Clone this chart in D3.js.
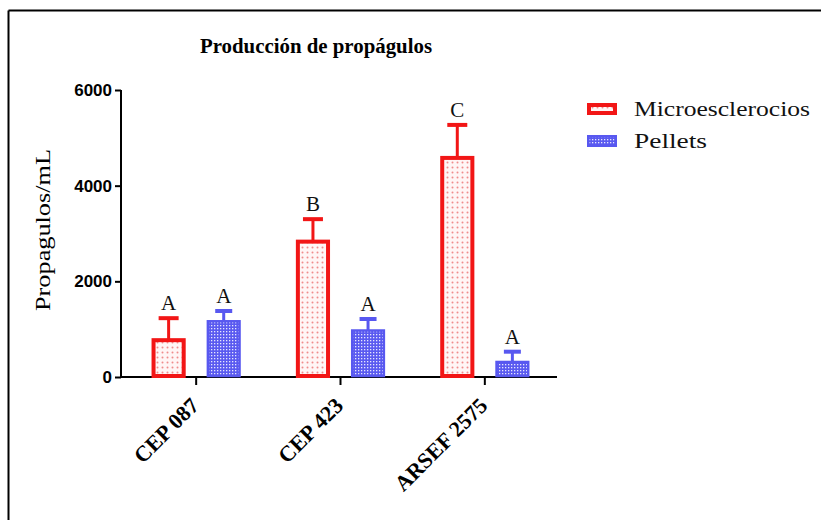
<!DOCTYPE html>
<html>
<head>
<meta charset="utf-8">
<script src="https://cdn.jsdelivr.net/npm/d3@7"></script>
<style>
  html, body { margin: 0; padding: 0; background: #fff; }
  svg { display: block; }
</style>
</head>
<body>
<div id="chart"></div>
<script>
// Strains on the x axis
const categories = ["CEP 087", "CEP 423", "ARSEF 2575"];
const seriesNames = ["Microesclerocios", "Pellets"];
// Mean propagules per mL and standard deviation (upper error bars)
const microValues = [770, 2830, 4580];
const microSD = [460, 470, 690];
const pelletValues = [1165, 972, 314];
const pelletSD = [215, 240, 215];
// Significance letters above each bar
const microLetters = ["A", "B", "C"];
const pelletLetters = ["A", "A", "A"];
const yTicks = [0, 2000, 4000, 6000];

const W = 821, H = 520;
const RED = "#f21616", BLUE = "#5858f0";

const svg = d3.select("#chart").append("svg")
  .attr("width", W).attr("height", H);

// Fill patterns: dotted pink for microsclerotia, checkered blue for pellets
const defs = svg.append("defs");
const pRed = defs.append("pattern").attr("id", "patRed")
  .attr("patternUnits", "userSpaceOnUse").attr("width", 5).attr("height", 5);
pRed.append("rect").attr("width", 5).attr("height", 5).attr("fill", "#fff6f6");
pRed.append("circle").attr("cx", 2.5).attr("cy", 2.5).attr("r", 1).attr("fill", "#f08c8c");

const pBlue = defs.append("pattern").attr("id", "patBlue")
  .attr("patternUnits", "userSpaceOnUse").attr("width", 3).attr("height", 3);
pBlue.append("rect").attr("width", 3).attr("height", 3).attr("fill", "#5a5af0");
pBlue.append("rect").attr("x", 1).attr("y", 1).attr("width", 1.3).attr("height", 1.3)
  .attr("fill", "#ffffff").attr("opacity", 0.85);

// Outer frame (top and left edges)
svg.append("line").attr("x1", 8.5).attr("x2", W).attr("y1", 10.5).attr("y2", 10.5)
  .attr("stroke", "#000").attr("stroke-width", 2);
svg.append("line").attr("x1", 8.5).attr("x2", 8.5).attr("y1", 10.5).attr("y2", H)
  .attr("stroke", "#000").attr("stroke-width", 2);

// Scales
const axisX = 121;
const x0 = d3.scaleBand().domain(categories).range([124, 557]).padding(0);
const x1 = d3.scaleBand().domain(seriesNames).range([0, x0.bandwidth()])
  .paddingInner(0.38).paddingOuter(0.5);
const y = d3.scaleLinear().domain([0, 6000]).range([377, 90]);

// Y axis
const yAxis = d3.axisLeft(y).tickValues(yTicks).tickSize(6).tickPadding(3)
  .tickFormat(d3.format("d"));
const gy = svg.append("g").attr("transform", `translate(${axisX},0)`).call(yAxis);
gy.select(".domain").attr("stroke-width", 2).attr("d", `M0,${y(6000)}V${y(0)}`);
gy.selectAll(".tick line").attr("stroke-width", 2);
gy.selectAll(".tick text")
  .attr("font-family", "Arial, 'Liberation Sans', sans-serif")
  .attr("font-weight", "bold").attr("font-size", 17).attr("fill", "#000");

// X axis
const xAxis = d3.axisBottom(x0).tickSize(8).tickFormat("");
const gx = svg.append("g").attr("transform", `translate(0,${y(0)})`).call(xAxis);
gx.select(".domain").attr("stroke-width", 2).attr("d", `M${axisX},0H557`);
gx.selectAll(".tick line").attr("stroke-width", 2);

// Rotated category labels
svg.append("g").selectAll("text").data(categories).join("text")
  .attr("transform", d => `translate(${x0(d) + x0.bandwidth() / 2 + 4},${y(0) + 30}) rotate(-45)`)
  .attr("text-anchor", "end")
  .attr("font-family", "'Liberation Serif', 'Times New Roman', serif")
  .attr("font-weight", "bold").attr("font-size", 22)
  .text(d => d);

// Bars
const series = [
  { name: seriesNames[0], values: microValues, sd: microSD, letters: microLetters,
    color: RED, fill: "url(#patRed)", sw: 4, capW: 20 },
  { name: seriesNames[1], values: pelletValues, sd: pelletSD, letters: pelletLetters,
    color: BLUE, fill: "url(#patBlue)", sw: 2.5, capW: 17 }
];

series.forEach(s => {
  const g = svg.append("g");
  const rows = categories.map((c, i) => ({ c, v: s.values[i], sd: s.sd[i], l: s.letters[i] }));
  const bw = x1.bandwidth();
  const cx = d => x0(d.c) + x1(s.name) + bw / 2;

  // error bars (upper side only)
  g.selectAll("line.err").data(rows).join("line").attr("class", "err")
    .attr("x1", cx).attr("x2", cx)
    .attr("y1", d => y(d.v)).attr("y2", d => y(d.v + d.sd))
    .attr("stroke", s.color).attr("stroke-width", 3);
  g.selectAll("line.cap").data(rows).join("line").attr("class", "cap")
    .attr("x1", d => cx(d) - s.capW / 2).attr("x2", d => cx(d) + s.capW / 2)
    .attr("y1", d => y(d.v + d.sd)).attr("y2", d => y(d.v + d.sd))
    .attr("stroke", s.color).attr("stroke-width", 4);

  g.selectAll("rect").data(rows).join("rect")
    .attr("x", d => x0(d.c) + x1(s.name) + s.sw / 2)
    .attr("width", bw - s.sw)
    .attr("y", d => y(d.v))
    .attr("height", d => y(0) - y(d.v) - 1)
    .attr("fill", s.fill).attr("stroke", s.color).attr("stroke-width", s.sw);

  g.selectAll("text").data(rows).join("text")
    .attr("x", cx).attr("y", d => y(d.v + d.sd) - 8)
    .attr("text-anchor", "middle")
    .attr("font-family", "'Liberation Serif', 'Times New Roman', serif")
    .attr("font-size", 21).attr("fill", "#111")
    .text(d => d.l);
});

// Title
svg.append("text").attr("x", 200).attr("y", 53)
  .attr("font-family", "'Liberation Serif', 'Times New Roman', serif")
  .attr("font-weight", "bold").attr("font-size", 20)
  .attr("textLength", 232).attr("lengthAdjust", "spacingAndGlyphs")
  .text("Producción de propágulos");

// Y axis title
svg.append("text").attr("transform", "translate(50,230) rotate(-90)")
  .attr("text-anchor", "middle")
  .attr("font-family", "'Liberation Serif', 'Times New Roman', serif")
  .attr("font-size", 21)
  .attr("textLength", 162).attr("lengthAdjust", "spacingAndGlyphs")
  .text("Propagulos/mL");

// Legend
const legend = svg.append("g");
series.forEach((s, i) => {
  const ly = 103 + i * 32;
  legend.append("rect").attr("x", 587 + s.sw / 2).attr("y", ly + s.sw / 2)
    .attr("width", 30 - s.sw).attr("height", 12 - s.sw)
    .attr("fill", s.fill).attr("stroke", s.color).attr("stroke-width", s.sw);
  legend.append("text").attr("x", 634).attr("y", ly + 13)
    .attr("font-family", "'Liberation Serif', 'Times New Roman', serif")
    .attr("font-size", 21).attr("fill", "#111")
    .attr("textLength", i === 0 ? 176 : 73).attr("lengthAdjust", "spacingAndGlyphs")
    .text(s.name);
});
</script>
</body>
</html>
